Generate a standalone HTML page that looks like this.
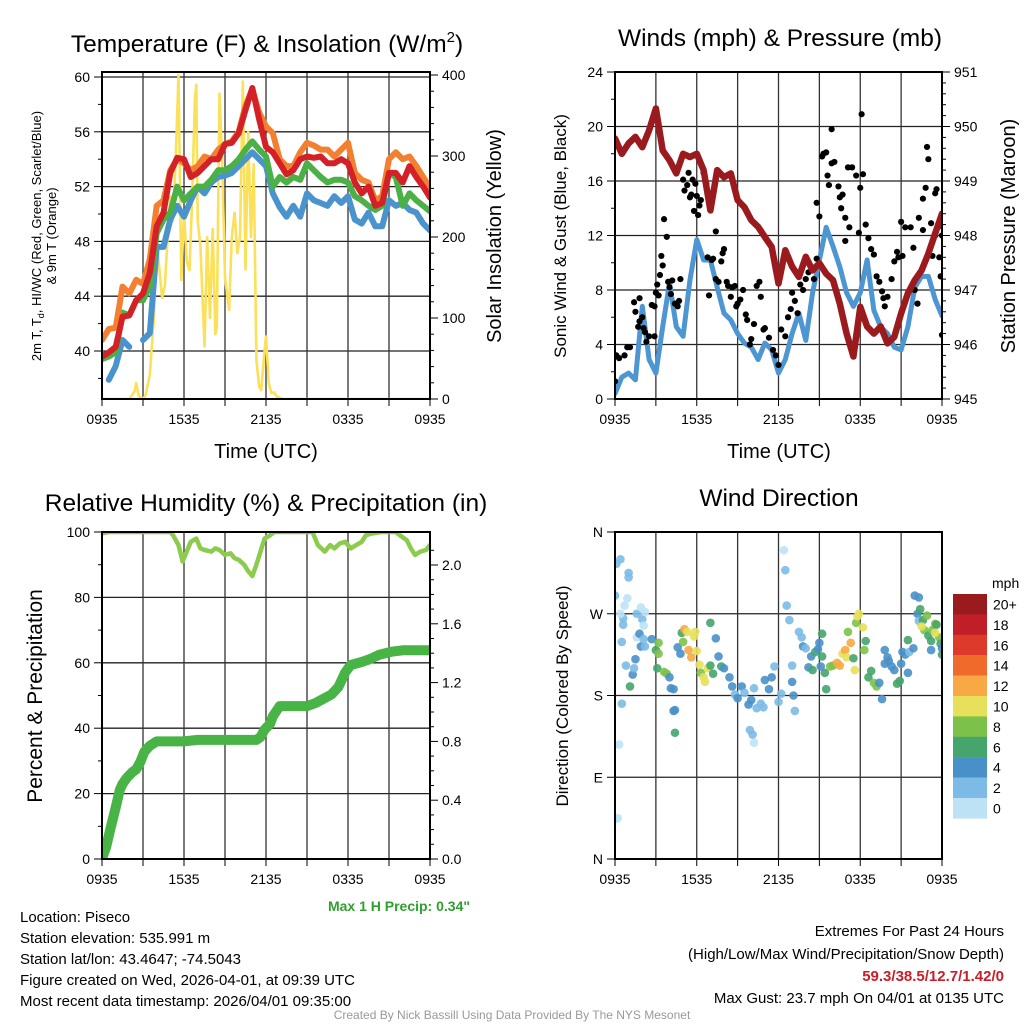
<!DOCTYPE html>
<html><head><meta charset="utf-8"><style>
html,body{margin:0;padding:0;background:#fff;}
svg{display:block;font-family:"Liberation Sans",Arial,sans-serif;}
</style></head><body>
<svg id="svg" width="1024" height="1024" viewBox="0 0 1024 1024" xmlns="http://www.w3.org/2000/svg">
<defs>
<clipPath id="c1"><rect x="102" y="72" width="328" height="327"/></clipPath>
<clipPath id="c2"><rect x="615" y="72" width="327" height="327"/></clipPath>
<clipPath id="c3"><rect x="102" y="532" width="328" height="327"/></clipPath>
<clipPath id="c4"><rect x="615" y="532" width="327" height="327"/></clipPath>
</defs>
<text x="267" y="52" font-size="24.5" text-anchor="middle">Temperature (F) &amp; Insolation (W/m<tspan font-size="15" dy="-10">2</tspan><tspan dy="10">)</tspan></text>
<text x="780" y="46" font-size="24.5" text-anchor="middle">Winds (mph) &amp; Pressure (mb)</text>
<text x="266" y="511" font-size="24.5" text-anchor="middle">Relative Humidity (%) &amp; Precipitation (in)</text>
<text x="779" y="506" font-size="24.5" text-anchor="middle">Wind Direction</text>

<text transform="translate(41,236) rotate(-90)" font-size="13" text-anchor="middle">2m T, T<tspan font-size="9" dy="3">d</tspan><tspan dy="-3">, HI/WC (Red, Green, Scarlet/Blue)</tspan></text>
<text transform="translate(56,236) rotate(-90)" font-size="13" text-anchor="middle">&amp; 9m T (Orange)</text>
<text transform="translate(501,236) rotate(-90)" font-size="20" text-anchor="middle">Solar Insolation (Yellow)</text>
<text transform="translate(566,236) rotate(-90)" font-size="17" text-anchor="middle">Sonic Wind &amp; Gust (Blue, Black)</text>
<text transform="translate(1015,236) rotate(-90)" font-size="20" text-anchor="middle">Station Pressure (Maroon)</text>
<text transform="translate(42,696) rotate(-90)" font-size="21" text-anchor="middle">Percent &amp; Precipitation</text>
<text transform="translate(568,696) rotate(-90)" font-size="17" text-anchor="middle">Direction (Colored By Speed)</text>
<text x="266" y="458" font-size="20" text-anchor="middle">Time (UTC)</text>
<text x="779" y="458" font-size="20" text-anchor="middle">Time (UTC)</text>

<text x="470" y="911" font-size="14" font-weight="bold" fill="#2ea02e" text-anchor="end">Max 1 H Precip: 0.34"</text>
<g font-size="15">
<text x="20" y="922">Location: Piseco</text>
<text x="20" y="943">Station elevation: 535.991 m</text>
<text x="20" y="964">Station lat/lon: 43.4647; -74.5043</text>
<text x="20" y="985">Figure created on Wed, 2026-04-01, at 09:39 UTC</text>
<text x="20" y="1006">Most recent data timestamp: 2026/04/01 09:35:00</text>
</g>
<g font-size="15" text-anchor="end">
<text x="1004" y="936">Extremes For Past 24 Hours</text>
<text x="1004" y="959">(High/Low/Max Wind/Precipitation/Snow Depth)</text>
<text x="1004" y="981" font-weight="bold" fill="#c8202a">59.3/38.5/12.7/1.42/0</text>
<text x="1004" y="1003">Max Gust: 23.7 mph On 04/01 at 0135 UTC</text>
</g>
<text x="512" y="1019" font-size="12" fill="#999" text-anchor="middle">Created By Nick Bassill Using Data Provided By The NYS Mesonet</text>
</svg>
<script>
// ---------- data ----------
const hours = [0,0.5,1,1.5,2,2.5,3,3.5,4,4.5,5,5.5,6,6.5,7,7.5,8,8.5,9,9.5,10,10.5,11,11.5,12,12.5,13,13.5,14,14.5,15,15.5,16,16.5,17,17.5,18,18.5,19,19.5,20,20.5,21,21.5,22,22.5,23,23.5,24];
const tempRed = [39.6,39.9,40.3,42.5,42.6,43.7,44.2,45.7,49.1,50.1,53.0,54.1,54.0,52.7,53.0,53.5,54.0,54.0,55.1,55.2,55.9,57.6,59.2,56.9,54.9,54.5,53.7,52.9,53.2,54.0,54.2,54.1,54.2,53.7,53.7,54.0,53.7,52.3,51.5,52.0,50.6,50.8,53.0,53.0,52.3,53.5,52.7,52.0,51.2];
const tempOrange = [40.8,41.6,41.7,44.7,44.2,45.2,44.9,46.7,50.6,51.0,53.2,54.0,53.7,53.2,53.5,54.2,54.0,54.7,55.1,55.3,56.0,57.9,59.1,57.4,56.4,55.9,54.0,53.5,53.5,54.5,55.2,55.0,54.7,54.7,54.2,54.7,55.2,53.0,52.5,52.3,51.0,51.3,54.0,54.5,54.0,54.2,53.5,52.7,51.9];
const tempGreen = [39.4,39.6,39.9,42.8,42.6,43.7,43.7,44.7,48.6,49.6,50.1,52.0,51.0,51.5,52.0,52.0,52.5,53.2,53.2,53.5,54.0,54.7,55.3,54.7,54.2,52.0,52.7,52.3,52.7,52.5,53.7,53.2,52.7,52.3,52.5,52.5,52.3,51.3,51.0,50.6,50.3,50.6,53.0,52.7,50.6,51.5,51.0,50.6,50.2];
const tempBlue = [null,37.9,38.9,40.8,40.3,null,40.8,41.3,47.6,47.6,49.6,50.6,49.8,51.0,52.0,51.5,52.3,52.7,52.8,53.0,53.5,54.0,54.5,54.0,53.5,51.5,50.5,49.8,50.6,49.8,51.5,51.0,50.8,50.6,51.3,50.8,51.3,49.6,49.3,50.1,49.1,49.1,51.0,50.6,50.8,50.3,50.1,49.3,48.8];
const solarHours = [0,2.0,2.4,2.5,2.7,3.0,3.2,3.5,3.8,4.0,4.2,4.4,4.6,4.8,5.0,5.2,5.4,5.6,5.8,6.0,6.2,6.4,6.6,6.8,6.9,7.0,7.2,7.5,7.7,7.9,8.1,8.3,8.4,8.6,8.8,9.0,9.3,9.5,9.7,9.9,10.1,10.3,10.5,10.7,10.9,11.1,11.3,11.5,11.65,11.9,12.0,12.2,12.4,12.6,12.8,13.2,24];
const solarValues = [0,0,10,20,3,0,5,30,100,200,160,125,140,200,250,220,300,400,147,230,170,159,250,370,388,220,190,65,200,100,210,80,89,377,290,150,110,200,230,180,200,392,160,330,200,290,48,15,11,60,77,20,7,8,3,0,0];
const windSonic = [0.4,1.6,1.9,1.4,6.8,2.9,1.9,5.3,8.5,5.3,4.6,8.7,11.7,10.2,10.2,8.2,6.3,5.8,4.8,4.1,3.8,2.9,4.1,3.6,1.9,2.9,4.8,6.3,4.3,7.8,10.2,12.6,11.2,9.7,7.8,6.8,7.8,10.2,6.5,5.3,4.8,3.8,3.6,5.3,8.2,9.0,9.0,7.3,6.1];
const pressure = [949.78,949.50,949.69,949.81,949.62,949.93,950.33,949.56,949.38,949.14,949.50,949.44,949.50,949.20,948.46,949.20,949.07,949.14,948.65,948.52,948.28,948.16,947.97,947.79,947.12,947.73,947.43,947.24,947.61,947.36,947.49,947.30,947.18,946.75,946.20,945.78,946.69,946.33,946.20,946.33,946.02,946.14,946.57,946.94,947.18,947.36,947.67,948.04,948.40];
const gustHours = [0.0,0.1,0.3,0.7,0.9,1.1,1.4,1.5,1.7,1.8,1.8,2.0,2.1,2.2,2.3,2.5,2.7,2.9,2.9,3.0,3.1,3.2,3.3,3.4,3.5,3.6,3.8,3.9,4.0,4.1,4.2,4.4,4.6,4.7,4.8,5.0,5.1,5.3,5.4,5.5,5.6,5.7,5.8,5.9,6.0,6.1,6.2,6.3,6.5,6.7,6.8,7.0,6.9,7.1,7.2,7.4,7.4,7.6,7.8,7.9,8.0,8.2,8.3,8.5,8.6,8.8,8.9,9.0,9.2,9.4,9.6,9.7,9.9,10.0,10.2,10.4,10.6,10.7,10.9,11.0,11.3,11.6,11.8,12.0,12.2,12.5,12.7,12.9,13.0,13.2,13.4,13.6,13.8,14.0,14.2,14.4,14.6,14.8,14.8,15.0,15.2,15.3,15.5,15.6,15.7,15.9,15.9,16.1,16.4,16.5,16.6,16.7,16.9,16.9,17.1,17.2,17.4,17.7,17.9,18.0,18.1,18.2,18.4,18.6,18.8,19.0,19.2,19.4,19.6,19.7,19.8,20.0,20.3,20.5,20.7,20.8,21.1,21.3,21.0,21.7,21.9,22.0,22.2,22.3,22.6,22.6,22.8,22.9,23.0,23.2,23.3,23.5,23.6,23.5,23.7,23.9,24.0,23.8,24.0];
const gustValues = [1.3,3.2,3.0,3.2,3.8,3.8,7.1,6.4,5.3,7.4,5.7,6.0,5.2,4.9,4.2,4.6,6.9,4.6,6.8,7.8,8.4,7.6,9.1,10.5,9.8,13.2,11.9,8.6,8.2,7.7,8.7,7.0,6.8,7.2,8.8,16.1,15.3,15.7,16.6,14.8,15.0,16.1,13.8,15.8,14.9,13.5,14.2,14.6,16.6,15.8,10.4,14.3,7.6,10.2,10.3,12.3,8.8,8.6,10.1,10.7,11.0,8.6,8.3,7.5,8.2,8.3,6.8,7.0,7.3,8.0,6.2,5.8,4.0,4.4,5.5,8.3,8.6,7.5,5.1,5.2,4.5,3.6,3.2,2.5,5.1,4.6,6.0,6.6,7.8,7.2,6.3,8.4,8.0,8.8,9.3,9.7,8.8,10.3,14.4,13.4,17.8,18.0,18.1,16.4,15.7,17.3,19.8,17.4,15.6,14.8,14.0,15.0,13.3,11.6,17.0,12.6,17.0,16.4,12.2,15.5,20.9,16.5,12.8,11.8,11.0,10.6,9.0,8.6,7.9,7.4,6.8,7.5,8.8,10.1,10.8,10.4,10.5,12.6,13.0,12.6,11.1,8.0,7.0,13.3,14.7,12.4,15.5,18.5,17.6,12.9,10.5,15.1,15.4,12.0,12.6,9.0,12.0,10.4,4.7];
const rhHours = [0,0.5,5,5.2,5.6,5.9,6.2,6.5,6.9,7.2,7.5,8.0,8.3,8.6,9.0,9.4,9.7,10.0,10.4,10.7,11.0,11.3,11.6,11.9,12.3,12.6,13.2,15.4,15.8,16.3,16.7,17.0,17.4,17.8,18.2,18.6,19.0,19.3,19.7,20.4,21.5,21.8,22.3,22.6,22.9,23.3,23.7,24];
const rhValues = [99.6,100,100,99,96,91,94,97,98,95,94.5,94,95,94.5,93,93.5,92,91.5,90,88,86.5,90,94,98,99,100,100,100,96,94,96,95,96.5,97,95,96,97,99,99.5,100,100,99,97.5,95,93,94,94.5,96];
const precipHours = [0,0.1,0.3,0.6,1.0,1.3,1.5,1.8,2.2,2.5,2.8,3.1,3.5,4.0,6.0,7.0,11.3,11.6,11.9,12.3,12.5,13.0,15.0,15.6,16.2,16.8,17.3,17.8,18.2,19.0,19.6,20.3,21.2,22,24];
const precipValues = [0,0.03,0.08,0.20,0.35,0.47,0.51,0.55,0.59,0.61,0.66,0.73,0.77,0.80,0.80,0.81,0.81,0.83,0.88,0.92,0.97,1.04,1.04,1.06,1.09,1.12,1.17,1.27,1.32,1.34,1.36,1.39,1.41,1.42,1.42];
const dirHours = [0.1,0.4,0.0,1.0,1.0,0.6,0.4,0.7,0.9,1.6,2.0,2.1,0.5,0.6,0.8,0.5,0.3,0.2,0.0,1.6,1.9,2.2,1.8,1.9,1.5,1.3,1.1,1.4,2.1,2.2,2.7,3.0,3.2,3.2,3.1,3.6,3.8,4.0,4.1,4.3,4.4,4.3,4.4,4.6,4.8,4.9,5.1,5.3,5.0,5.4,5.6,5.8,5.9,6.0,6.2,6.3,6.5,6.6,6.8,7.0,7.2,7.6,7.4,7.0,7.8,8.0,8.4,8.6,8.8,9.0,9.3,9.5,9.8,10.0,10.2,10.4,10.7,9.9,10.1,10.2,10.9,11.0,11.3,11.5,11.7,12.0,12.2,12.4,12.5,12.6,12.8,13.0,13.1,13.2,13.0,13.5,13.7,13.8,14.0,14.2,14.4,14.5,14.7,14.9,15.0,15.2,15.4,15.5,15.1,15.2,15.8,16.0,16.3,16.5,16.7,16.9,17.1,17.3,17.0,17.5,17.6,17.7,17.8,17.9,18.2,18.4,18.3,18.6,18.8,19.0,19.2,19.4,19.6,19.8,19.8,20.1,20.3,20.5,20.7,20.9,20.0,21.0,21.3,21.1,21.5,21.6,21.9,22.0,22.3,22.2,22.3,21.5,22.4,22.6,22.7,22.9,23.0,23.2,23.3,23.5,23.6,23.8,23.9,24.0,23.2,24.0,22.5,23.5];
const dirValues = [325,330,290,310,315,265,270,279,287,244,264,257,239,258,213,171,126,45,44,270,277,272,248,234,220,203,190,210,242,234,242,230,226,238,210,206,204,200,188,187,164,163,139,233,226,249,253,250,239,230,222,245,250,229,214,205,200,195,210,213,204,223,243,260,212,210,200,190,181,177,190,183,170,175,188,166,171,142,137,128,167,197,187,200,212,173,182,340,318,279,263,213,180,163,195,250,244,234,232,211,223,208,228,231,238,223,205,187,212,248,212,213,216,213,226,230,250,238,222,221,208,260,267,270,255,240,230,200,207,194,190,194,176,230,215,218,212,208,193,196,222,215,225,228,241,228,232,290,288,270,262,205,275,263,252,268,246,240,252,259,258,244,237,225,230,232,256,249];
const dirSpeeds = [2,2,2,2,2,2,1,1,1,1,2,1,2,2,2,2,1,1,1,2,1,1,4,4,4,4,6,2,2,2,4,6,8,8,6,8,8,4,4,4,4,4,6,4,4,6,12,10,8,12,12,10,10,10,10,8,10,10,10,6,6,4,4,6,6,4,4,4,2,4,4,2,4,4,2,2,2,2,2,1,2,4,4,4,2,2,2,1,2,2,2,2,4,2,4,2,2,4,2,4,4,6,6,4,4,6,6,6,4,6,8,8,12,12,10,12,8,12,10,6,10,8,10,10,10,6,8,6,6,8,8,4,4,4,4,4,4,4,6,6,4,4,4,4,6,2,4,4,4,4,2,4,6,6,8,8,6,6,8,8,6,8,6,6,4,4,10,10];
const tempTicks = [40,44,48,52,56,60];
const solarTicks = [0,100,200,300,400];
const windTicks = [0,4,8,12,16,20,24];
const pressTicks = [945,946,947,948,949,950,951];
const rhTicks = [0,20,40,60,80,100];
const precipTicks = [0,0.4,0.8,1.2,1.6,2.0];
const dirTickVals = [0,90,180,270,360];
const dirTickLabels = ['N','E','S','W','N'];
const timeTickHours = [0,6,12,18,24];
const timeTickLabels = ['0935','1535','2135','0335','0935'];
const speedBins = ['20+','18','16','14','12','10','8','6','4','2','0'];
const speedColors = ['#991b1e','#c11f27','#de3a2c','#f06a2b','#f8a844','#e7e05a','#7cc24a','#45a56c','#4a90c8','#7cbbe6','#bde2f6'];

// ---------- scales ----------
const NS='http://www.w3.org/2000/svg';
const svg=document.getElementById('svg');
const P1={x0:102,x1:430,y0:72,y1:399}, P2={x0:615,x1:942,y0:72,y1:399}, P3={x0:102,x1:430,y0:532,y1:859}, P4={x0:615,x1:942,y0:532,y1:859};
const xh=(P,h)=>P.x0+h*(P.x1-P.x0)/24;
const yTemp=v=>77+(60-v)*13.7;
const ySolar=v=>399-v*0.81;
const yWind=v=>399-v*13.625;
const yPress=v=>399-(v-945)*54.5;
const yRH=v=>859-v*3.27;
const yPrecip=v=>859-v*147;
const yDir=v=>859-v*327/360;
function mk(tag,parent){const e=document.createElementNS(NS,tag);(parent||svg).appendChild(e);return e;}
function setA(e,o){for(const k in o)e.setAttribute(k,o[k]);}
function pathD(P,hs,vs,ys){let d='',pen=false;for(let i=0;i<hs.length;i++){if(vs[i]===null||vs[i]===undefined){pen=false;continue;}d+=(pen?'L':'M')+xh(P,hs[i]).toFixed(1)+' '+ys(vs[i]).toFixed(1);pen=true;}return d;}
function speedColor(s){let idx=Math.min(10,Math.floor(s/2));return speedColors[10-idx];}

function panelFrame(P,name,hLines,vLinesH){
  const g=mk('g');
  
  
  hLines.forEach(y=>{const l=mk('line',g);setA(l,{x1:P.x0,x2:P.x1,y1:y,y2:y,stroke:'#222','stroke-width':1.3});
    
    });
  vLinesH.forEach(h=>{const x=xh(P,h);const l=mk('line',g);setA(l,{x1:x,x2:x,y1:P.y0,y2:P.y1,stroke:'#333','stroke-width':1.3});
    
    });
}
function frame(P,name){
  const r=mk('rect');setA(r,{x:P.x0,y:P.y0,width:P.x1-P.x0,height:P.y1-P.y0,fill:'none',stroke:'#000','stroke-width':2});
  
  
}
function leftTicks(P,vals,labels,ys,name,minorVals){
  vals.forEach((v,i)=>{const y=ys(v);const l=mk('line');setA(l,{x1:P.x0-8,x2:P.x0,y1:y,y2:y,stroke:'#000','stroke-width':1});
    
    
    const t=mk('text');setA(t,{x:P.x0-12,y:y+5,'font-size':14,'text-anchor':'end'});t.textContent=labels[i];
    
    });
  (minorVals||[]).forEach(v=>{const y=ys(v);const l=mk('line');setA(l,{x1:P.x0-4,x2:P.x0,y1:y,y2:y,stroke:'#000','stroke-width':1});
    
    });
}
function rightTicks(P,vals,labels,ys,name,minorVals){
  vals.forEach((v,i)=>{const y=ys(v);const l=mk('line');setA(l,{x1:P.x1,x2:P.x1+8,y1:y,y2:y,stroke:'#000','stroke-width':1});
    
    
    const t=mk('text');setA(t,{x:P.x1+12,y:y+5,'font-size':14});t.textContent=labels[i];
    
    });
  (minorVals||[]).forEach(v=>{const y=ys(v);const l=mk('line');setA(l,{x1:P.x1,x2:P.x1+4,y1:y,y2:y,stroke:'#000','stroke-width':1});
    
    });
}
function timeTicks(P,name){
  for(let h=0;h<=24;h+=3){const x=xh(P,h);const l=mk('line');setA(l,{x1:x,x2:x,y1:P.y1,y2:P.y1+7,stroke:'#000','stroke-width':1});
    
    }
  timeTickHours.forEach((h,i)=>{const t=mk('text');setA(t,{x:xh(P,h),y:P.y1+25,'font-size':14,'text-anchor':'middle'});t.textContent=timeTickLabels[i];
    
    });
}
function line(P,clip,hs,vs,ys,color,w,name){
  const p=mk('path');setA(p,{d:pathD(P,hs,vs,ys),fill:'none',stroke:color,'stroke-width':w,'stroke-linejoin':'round','stroke-linecap':'round','clip-path':'url(#'+clip+')'});
  
  
}
const gridH=[3,6,9,12,15,18,21];
const range=(a,b,s)=>{const r=[];for(let v=a;v<=b+1e-9;v+=s)r.push(+v.toFixed(3));return r;};

// Panel 1
panelFrame(P1,'temperature',tempTicks.map(yTemp),gridH);
line(P1,'c1',solarHours,solarValues,ySolar,'#fbe05a',2.6,'solar-insolation-line');
line(P1,'c1',hours,tempBlue,yTemp,'#4a93cc',6,'heat-index-line');
line(P1,'c1',hours,tempGreen,yTemp,'#4bb045',6,'dewpoint-line');
line(P1,'c1',hours,tempOrange,yTemp,'#f28030',6,'temp-9m-line');
line(P1,'c1',hours,tempRed,yTemp,'#d42127',6,'temp-2m-line');
frame(P1,'temperature');
leftTicks(P1,tempTicks,tempTicks.map(String),yTemp,'temperature-y',range(38,58,4));
rightTicks(P1,solarTicks,solarTicks.map(String),ySolar,'solar-y',range(20,380,20).filter(v=>v%100));
timeTicks(P1,'temperature');

// Panel 2
panelFrame(P2,'winds',windTicks.slice(1,-1).map(yWind),gridH);
line(P2,'c2',hours,windSonic,yWind,'#4e96d2',5,'sonic-wind-line');
gustHours.forEach((h,i)=>{const c=mk('circle');setA(c,{cx:xh(P2,h),cy:yWind(gustValues[i]),r:3.1,fill:'#000','clip-path':'url(#c2)'});
  
  });
line(P2,'c2',hours,pressure,yPress,'#9b1a1d',6.5,'pressure-line');
frame(P2,'winds');
leftTicks(P2,windTicks,windTicks.map(String),yWind,'wind-y',range(2,22,4));
rightTicks(P2,pressTicks,pressTicks.map(String),yPress,'pressure-y',range(945.2,950.8,0.2).filter(v=>Math.abs(v-Math.round(v))>0.05));
timeTicks(P2,'winds');

// Panel 3
panelFrame(P3,'humidity',rhTicks.slice(1,-1).map(yRH),gridH);
line(P3,'c3',rhHours,rhValues,yRH,'#8dcb4f',4.5,'relative-humidity-line');
line(P3,'c3',precipHours,precipValues,yPrecip,'#48b446',10,'precipitation-line');
frame(P3,'humidity');
leftTicks(P3,rhTicks,rhTicks.map(String),yRH,'humidity-y',range(10,90,20));
rightTicks(P3,precipTicks,precipTicks.map(v=>v.toFixed(1)),yPrecip,'precip-y',range(0.1,2.1,0.1).filter(v=>Math.abs(v/0.4-Math.round(v/0.4))>0.01));
timeTicks(P3,'humidity');

// Panel 4
panelFrame(P4,'direction',[90,180,270].map(yDir),gridH);
dirHours.forEach((h,i)=>{const c=mk('circle');setA(c,{cx:xh(P4,h),cy:yDir(dirValues[i]),r:4.3,fill:speedColor(dirSpeeds[i]),'fill-opacity':0.9,'clip-path':'url(#c4)'});
  
  });
frame(P4,'direction');
leftTicks(P4,dirTickVals,dirTickLabels,yDir,'direction-y');
timeTicks(P4,'direction');

// Colorbar
const cbLabel=mk('text');setA(cbLabel,{x:992,y:588,'font-size':14});cbLabel.textContent='mph';


speedBins.forEach((b,i)=>{const y=594+i*20.4;const r=mk('rect');setA(r,{x:953,y:y,width:34,height:20.6,fill:speedColors[i]});
  
  
  const t=mk('text');setA(t,{x:993,y:y+15.5,'font-size':14});t.textContent=b;
  
  });
</script>
</body></html>
